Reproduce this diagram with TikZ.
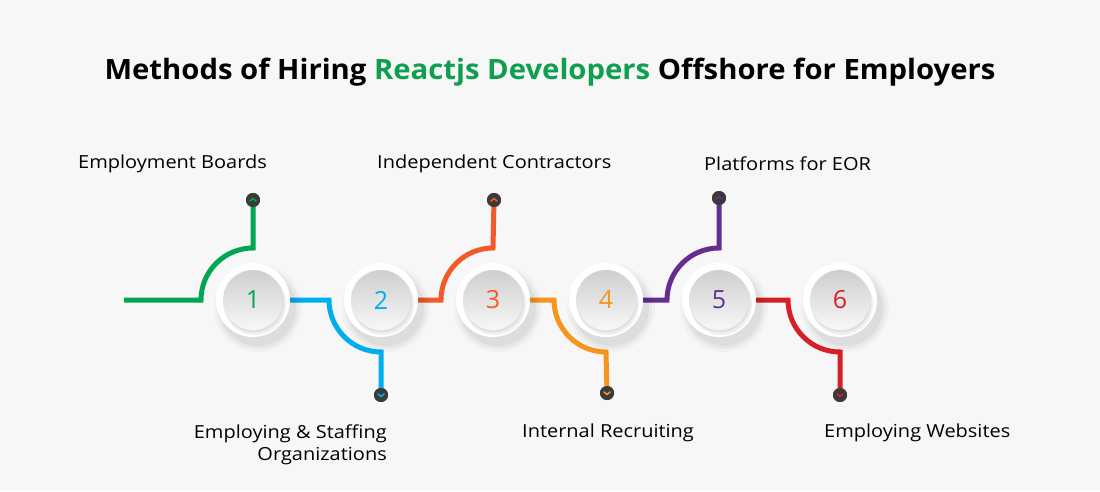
\documentclass[tikz,border=0pt]{standalone}
\usepackage{fontspec}
\setmainfont{Open Sans}
\usetikzlibrary{calc}
\definecolor{bg}{HTML}{F7F7F7}
\definecolor{cgreen}{HTML}{00A650}
\definecolor{cblue}{HTML}{00AEEF}
\definecolor{cored}{HTML}{F15A29}
\definecolor{corange}{HTML}{F7941D}
\definecolor{cpurple}{HTML}{662D91}
\definecolor{cred}{HTML}{D71F27}
\definecolor{tgreen}{HTML}{0E9F4F}
\definecolor{dotc}{HTML}{3A3A3A}
\tikzset{
  conn/.style={line width=5pt},
  dotnode/.style={circle, fill=dotc, minimum size=14pt, inner sep=0pt},
  numnode/.style={circle, minimum size=74pt, inner sep=0pt, font=\fontsize{25}{25}\selectfont},
  lbl/.style={font=\fontsize{18}{22}\selectfont\addfontfeatures{FakeStretch=1.11}, text=black, inner sep=0pt},
  chev/.style={line width=1.6pt, line cap=round, line join=round},
}
\newcommand{\btn}[1]{%
  \foreach \r/\o in {44/0.025,41/0.035,38/0.045}{\fill[black,opacity=\o] ($(#1)+(5,-8)$) circle (\r pt);}
  \fill[white] (#1) circle (37pt);
  \fill[black,opacity=0.06] ($(#1)+(2,-4)$) circle (31pt);
  \fill[black,opacity=0.06] ($(#1)+(1,-2)$) circle (30.5pt);
  \shade[top color=gray!38, bottom color=gray!6] (#1) circle (30pt);
}
\begin{document}
\begin{tikzpicture}[x=1pt,y=1pt]
\fill[bg] (0,0) rectangle (1100,491);
\useasboundingbox (0,0) rectangle (1100,491);
\def\R{52}
\foreach \x [count=\i] in {253,381,493,606,719,840}{\coordinate (p\i) at (\x,191);}
\node[dotnode] (d1) at (253,291) {};
\node[dotnode] (d2) at (381,96) {};
\node[dotnode] (d3) at (494,291) {};
\node[dotnode] (d4) at (607,98) {};
\node[dotnode] (d5) at (719,293) {};
\node[dotnode] (d6) at (840,96) {};
\coordinate (s0) at (124,191);
\draw[conn, cgreen] (s0) -- ($(p1)+(-\R,0)$) arc (180:90:\R) -- (d1.center);
\draw[conn, cblue] (p1) -- ($(p2)+(-\R,0)$) arc (180:270:\R) -- (d2.center);
\draw[conn, cored] (p2) -- ($(p3)+(-\R,0)$) arc (180:90:\R) -- ($(p3)+(0,\R)$) -- (d3.center);
\draw[conn, corange] (p3) -- ($(p4)+(-\R,0)$) arc (180:270:\R) -- (d4.center);
\draw[conn, cpurple] (p4) -- ($(p5)+(-\R,0)$) arc (180:90:\R) -- (d5.center);
\draw[conn, cred] (p5) -- ($(p6)+(-\R,0)$) arc (180:270:\R) -- (d6.center);
\foreach \i in {1,...,6}{\fill[dotc] (d\i) circle (7pt);}
\draw[chev, cgreen] ([shift={(-3,-1)}]d1.center) -- ++(3,2.5) -- ++(3,-2.5);
\draw[chev, cblue] ([shift={(-3,1)}]d2.center) -- ++(3,-2.5) -- ++(3,2.5);
\draw[chev, cored] ([shift={(-3,-1)}]d3.center) -- ++(3,2.5) -- ++(3,-2.5);
\draw[chev, corange] ([shift={(-3,1)}]d4.center) -- ++(3,-2.5) -- ++(3,2.5);
\draw[chev, cpurple] ([shift={(-3,-1)}]d5.center) -- ++(3,2.5) -- ++(3,-2.5);
\draw[chev, cred] ([shift={(-3,1)}]d6.center) -- ++(3,-2.5) -- ++(3,2.5);
\foreach \i in {1,...,6}{\btn{p\i}}
\node[numnode, text=cgreen] (c1) at (p1) {1};
\node[numnode, text=cblue] (c2) at (p2) {2};
\node[numnode, text=cored] (c3) at (p3) {3};
\node[numnode, text=corange] (c4) at (p4) {4};
\node[numnode, text=cpurple] (c5) at (p5) {5};
\node[numnode, text=cred] (c6) at (p6) {6};
\node[font=\fontsize{28}{32}\selectfont\bfseries\addfontfeatures{FakeStretch=1.045}, inner sep=0pt] (title) at (550,419)
  {Methods of Hiring \textcolor{tgreen}{Reactjs Developers} Offshore for Employers};
\node[lbl, anchor=west] (l1) at (78,327) {Employment Boards};
\node[lbl, anchor=west] (l3) at (377,327) {Independent Contractors};
\node[lbl, anchor=west] (l5) at (704,327) {Platforms for EOR};
\node[lbl, anchor=east, align=right] (l2) at (387,46) {Employing \& Staffing\\Organizations};
\node[lbl, anchor=west] (l4) at (522,58) {Internal Recruiting};
\node[lbl, anchor=west] (l6) at (824,58) {Employing Websites};
\end{tikzpicture}
\end{document}
